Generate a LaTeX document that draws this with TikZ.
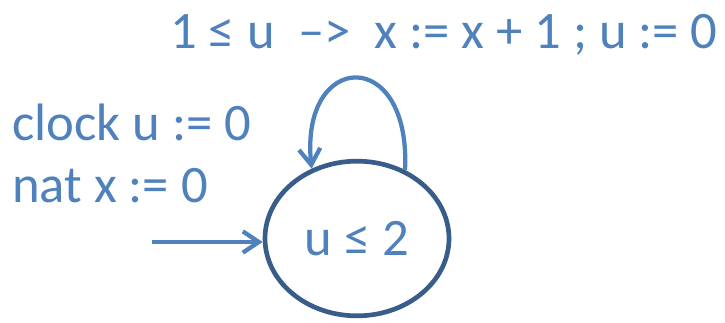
\documentclass[tikz,border=0pt]{standalone}
\usepackage{fontspec}
\setmainfont{Carlito}
\usetikzlibrary{arrows.meta,positioning,shapes.geometric}
\definecolor{offblue}{HTML}{4F81BD}
\definecolor{offdark}{HTML}{385D8A}

\begin{document}
\begin{tikzpicture}[
  x=0.75pt, y=-0.75pt,
  lbl/.style={text=offblue, font=\fontsize{39.5}{46}\selectfont, inner sep=0pt, anchor=base west},
  loc/.style={draw=offdark, line width=3.5pt, ellipse, minimum width=138pt, minimum height=116pt,
    text=offblue, font=\fontsize{39.5}{46}\selectfont},
  trans/.style={draw=offblue, line width=3.2pt, -{Straight Barb[length=12pt, width=16pt]}}
]
\useasboundingbox (0,0) rectangle (725,322);

\node[loc] (state) at (357,238.5) {u ≤ 2};
\coordinate (init) at (152,242);

\node[lbl] (decl1) at (12,140) {clock u := 0};
\node[lbl] (decl2) at (12,202) {nat x := 0};
\node[lbl] (guard) at (170,48) {1 ≤ u \ –> \ x := x + 1 ; u := 0};

\draw[trans] (init) -- (state.west |- init);
\draw[trans] (state.55) .. controls +(6,-125) and +(-12,-118) .. (state.123);
\end{tikzpicture}
\end{document}
